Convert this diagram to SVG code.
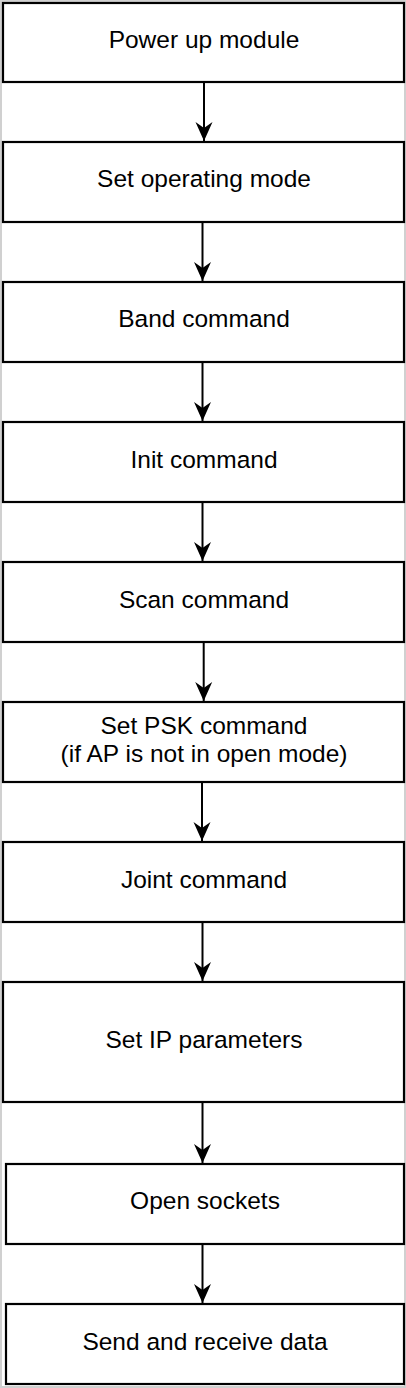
<svg xmlns="http://www.w3.org/2000/svg" width="406" height="1388" viewBox="0 0 406 1388">
<style>
.box{fill:#fff;stroke:#000;stroke-width:2.2}
.lbl{font-family:"Liberation Sans",Arial,sans-serif;font-size:24.5px;fill:#000;text-anchor:middle}
.con{stroke:#000;stroke-width:2;fill:none}
</style>
<defs>
<marker id="ah" markerUnits="userSpaceOnUse" markerWidth="19" markerHeight="18" refX="19" refY="9" orient="auto" viewBox="0 0 19 18">
<path d="M0,0.5 L6,9 L0,17.5 L19,9 Z" fill="#000"/>
</marker>
</defs>
<rect x="0" y="0" width="406" height="1388" fill="#fff" stroke="#d0d0d0" stroke-width="4"/>
<g id="n1"><rect class="box" x="3" y="3" width="401" height="79"/><text class="lbl" x="204" y="47.5">Power up module</text></g>
<g id="n2"><rect class="box" x="3" y="142" width="401" height="80"/><text class="lbl" x="204" y="187">Set operating mode</text></g>
<g id="n3"><rect class="box" x="3" y="282" width="401" height="80"/><text class="lbl" x="204" y="327">Band command</text></g>
<g id="n4"><rect class="box" x="3" y="422" width="401" height="80"/><text class="lbl" x="204" y="467.5">Init command</text></g>
<g id="n5"><rect class="box" x="3" y="562" width="401" height="80"/><text class="lbl" x="204" y="607.5">Scan command</text></g>
<g id="n6"><rect class="box" x="3" y="702" width="401" height="80"/><text class="lbl" x="204" y="734">Set PSK command</text><text class="lbl" x="204" y="762">(if AP is not in open mode)</text></g>
<g id="n7"><rect class="box" x="3" y="842" width="401" height="80"/><text class="lbl" x="204" y="887.5">Joint command</text></g>
<g id="n8"><rect class="box" x="3" y="982" width="401" height="120"/><text class="lbl" x="204" y="1047.5">Set IP parameters</text></g>
<g id="n9"><rect class="box" x="6" y="1164" width="398" height="80"/><text class="lbl" x="205" y="1209">Open sockets</text></g>
<g id="n10"><rect class="box" x="6" y="1304" width="398" height="80"/><text class="lbl" x="205" y="1349.5">Send and receive data</text></g>
<g id="connectors">
<line class="con" x1="204" y1="83" x2="204" y2="141" marker-end="url(#ah)"/>
<line class="con" x1="202.5" y1="223" x2="202.5" y2="281" marker-end="url(#ah)"/>
<line class="con" x1="202.5" y1="363" x2="202.5" y2="421" marker-end="url(#ah)"/>
<line class="con" x1="202.5" y1="503" x2="202.5" y2="561" marker-end="url(#ah)"/>
<line class="con" x1="203.7" y1="643" x2="203.7" y2="701" marker-end="url(#ah)"/>
<line class="con" x1="202" y1="783" x2="202" y2="841" marker-end="url(#ah)"/>
<line class="con" x1="202.5" y1="923" x2="202.5" y2="981" marker-end="url(#ah)"/>
<line class="con" x1="202.5" y1="1103" x2="202.5" y2="1163" marker-end="url(#ah)"/>
<line class="con" x1="202.5" y1="1245" x2="202.5" y2="1303" marker-end="url(#ah)"/>
</g>
</svg>
